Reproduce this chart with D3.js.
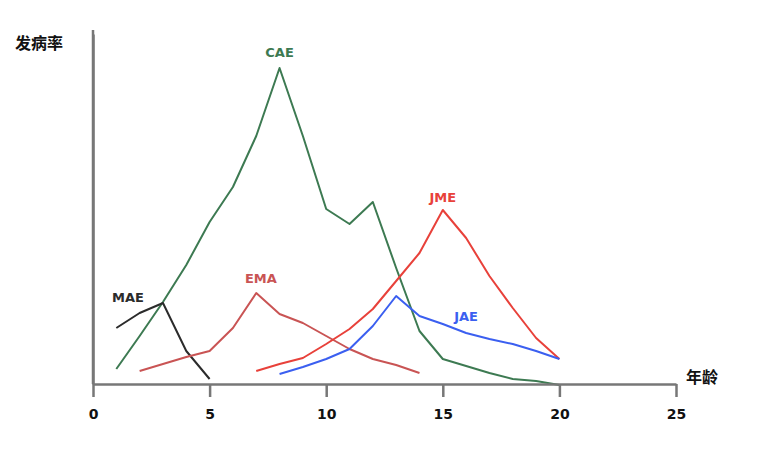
<!DOCTYPE html>
<html><head><meta charset="utf-8">
<script src="https://cdn.jsdelivr.net/npm/d3@7"></script>
<style>body{margin:0;background:#fff}svg{display:block}</style>
</head><body>
<svg id="c" width="770" height="465"></svg>
<script>
// Ages (x) and incidence (arbitrary units) per syndrome
const xTicks = [0, 5, 10, 15, 20, 25];
const caeAge = [1,2,3,4,5,6,7,8,9,10,11,12,13,14,15,16,17,18,19,20];
const caeVal = [15,48,82,119,162,197,248,316,248,175,160,182,116,53,25,18,11,5,3,-1];
const maeAge = [1,2,3,4,5];
const maeVal = [56,71,81,33,5];
const emaAge = [2,3,4,5,6,7,8,9,10,11,12,13,14];
const emaVal = [13,20,27,33,56,91,70,61,48,35,25,19,11];
const jmeAge = [7,8,9,10,11,12,13,14,15,16,17,18,19,20];
const jmeVal = [13,20,26,40,55,75,103,131,174,146,108,76,46,25];
const jaeAge = [8,9,10,11,12,13,14,15,16,17,18,19,20];
const jaeVal = [10,17,25,35,58,88,68,60,51,45,40,33,25];
const seriesNames = ["CAE","MAE","EMA","JME","JAE"];
const labelAt = {CAE:[8,327], MAE:[1.5,82], EMA:[7.2,101], JME:[15,182], JAE:[16,63]};
const colors = {CAE:"#3d7a52", MAE:"#2b2b2b", EMA:"#c95454", JME:"#e8413a", JAE:"#3b5ff0"};
const series = {
  CAE: caeAge.map((a,i)=>[a,caeVal[i]]),
  MAE: maeAge.map((a,i)=>[a,maeVal[i]]),
  EMA: emaAge.map((a,i)=>[a,emaVal[i]]),
  JME: jmeAge.map((a,i)=>[a,jmeVal[i]]),
  JAE: jaeAge.map((a,i)=>[a,jaeVal[i]])
};

const svg = d3.select("#c");
const x = d3.scaleLinear().domain([0,25]).range([93,676]);
const y = d3.scaleLinear().domain([0,350]).range([384,34]);

const line = d3.line().x(d=>x(d[0])).y(d=>y(d[1]));
seriesNames.forEach(n=>{
  svg.append("path").datum(series[n]).attr("d",line)
    .attr("fill","none").attr("stroke",colors[n]).attr("stroke-width",2)
    .attr("stroke-linejoin","round");
});
seriesNames.forEach(n=>{
  svg.append("text").attr("x",x(labelAt[n][0])).attr("y",y(labelAt[n][1]))
    .attr("text-anchor","middle").attr("font-family","DejaVu Sans, Verdana, sans-serif")
    .attr("font-weight","bold").attr("font-size",13).attr("fill",colors[n]).text(n);
});

// axes
const xAxis = d3.axisBottom(x).tickValues(xTicks).tickSize(13).tickSizeOuter(0).tickPadding(12);
const gx = svg.append("g").attr("transform","translate(0,384)").call(xAxis);
gx.select(".domain").attr("stroke","#777").attr("stroke-width",2.5);
gx.selectAll(".tick line").attr("stroke","#777").attr("stroke-width",2.5);
gx.selectAll(".tick text").attr("font-family","DejaVu Sans, Verdana, sans-serif")
  .attr("font-weight","bold").attr("font-size",14).attr("fill","#111");
const yAxis = d3.axisLeft(y).tickValues([]).tickSizeOuter(0);
const gy = svg.append("g").attr("transform","translate(93,0)").call(yAxis);
gy.select(".domain").attr("stroke","#777").attr("stroke-width",2.5);
svg.append("line").attr("x1",93).attr("x2",93).attr("y1",y(350)-4).attr("y2",384)
  .attr("stroke","#777").attr("stroke-width",2.5);

svg.append("text").attr("x",15).attr("y",49).attr("font-family","Noto Sans CJK SC")
  .attr("font-size",16).attr("font-weight","bold").attr("fill","#111").text("发病率");
svg.append("text").attr("x",686).attr("y",383).attr("font-family","Noto Sans CJK SC")
  .attr("font-size",16).attr("font-weight","bold").attr("fill","#111").text("年龄");
</script>
</body></html>
